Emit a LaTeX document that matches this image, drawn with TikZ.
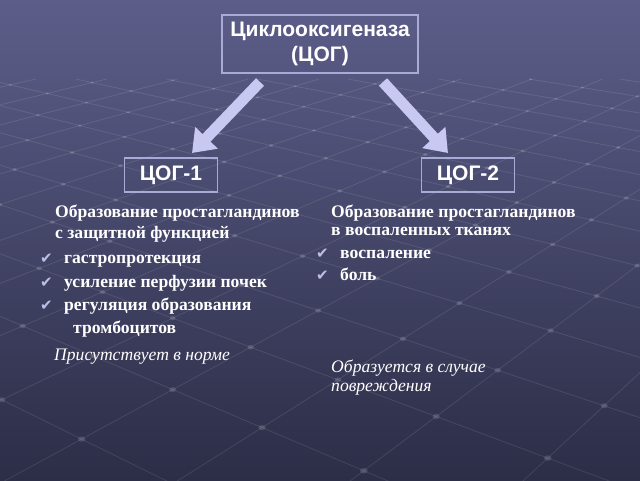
\documentclass[tikz,border=0pt]{standalone}
\usepackage{fontspec}
\setmainfont{Liberation Serif}
\newfontfamily\arialf{Liberation Sans}
\newfontfamily\djv{DejaVu Sans}
\usetikzlibrary{arrows.meta}
\definecolor{bgtop}{RGB}{92,94,138}
\definecolor{bgbot}{RGB}{44,45,70}
\definecolor{boxline}{RGB}{170,170,215}
\definecolor{arrowc}{RGB}{200,200,242}
\definecolor{checkc}{RGB}{190,190,230}
\begin{document}
\begin{tikzpicture}[x=1pt,y=-1pt,
  gridl/.style={white,opacity=0.10,line width=0.8pt},
  gridd/.style={white,opacity=0.14},
  titlebox/.style={draw=boxline,line width=1.2pt,text=white,font=\arialf\bfseries\fontsize{21}{25}\selectfont,align=center,inner sep=0pt,minimum width=196pt,minimum height=58pt},
  cogbox/.style={draw=boxline,line width=1.2pt,text=white,font=\arialf\bfseries\fontsize{21}{22}\selectfont,inner sep=0pt,minimum width=93pt,minimum height=34pt},
  bodytxt/.style={text=white,font=\bfseries\fontsize{17.6}{20}\selectfont,anchor=base west,inner sep=0pt},
  itxt/.style={text=white,font=\itshape\fontsize{17.6}{20}\selectfont,anchor=base west,inner sep=0pt},
  chk/.style={text=checkc,font=\djv\fontsize{15}{15}\selectfont,anchor=base west,inner sep=0pt},
  bigarrow/.style={draw=arrowc,line width=11pt,-{Triangle[width=30pt,length=21pt]}}
]
\useasboundingbox (0,0) rectangle (640,480);
\shade[top color=bgtop,bottom color=bgbot] (0,0) rectangle (640,480);
% perspective floor grid
\pgfmathsetmacro{\cs}{cos(52)}
\pgfmathsetmacro{\sn}{sin(52)}
\begin{scope}
\clip (0,0) rectangle (640,480);
\foreach \i in {1,...,23}{
  \pgfmathsetmacro{\ga}{\i*0.2+0.05}
  \pgfmathsetmacro{\xa}{320+1200*(\ga-1.6*\sn)/(\cs*1.6)}
  \pgfmathsetmacro{\xb}{320+1200*(\ga-4.3*\sn)/(\cs*4.3)}
  \draw[gridl] (\xa,{-200+1200/1.6}) -- (\xb,{-200+1200/4.3});
  \pgfmathsetmacro{\xc}{320+1200*(1.6*\cs-\ga)/(\sn*1.6)}
  \pgfmathsetmacro{\xd}{320+1200*(4.3*\cs-\ga)/(\sn*4.3)}
  \draw[gridl] (\xc,{-200+1200/1.6}) -- (\xd,{-200+1200/4.3});
}
\foreach \i in {1,...,23}{
  \foreach \j in {1,...,23}{
    \pgfmathsetmacro{\za}{(\i*0.2+0.05)*\sn+(\j*0.2+0.05)*\cs}
    \ifdim\za pt>1.6pt \ifdim\za pt<4.3pt
      \pgfmathsetmacro{\xx}{(\i*0.2+0.05)*\cs-(\j*0.2+0.05)*\sn}
      \fill[gridd] ({320+1200*\xx/\za},{-200+1200/\za}) ellipse ({7/\za} and {5/\za});
    \fi\fi
  }
}
\end{scope}
% boxes
\node[titlebox] (cog) at (320,44) {Циклооксигеназа\\(ЦОГ)};
\node[cogbox] (cog1) at (171,175) {ЦОГ-1};
\node[cogbox] (cog2) at (468,175) {ЦОГ-2};
% arrows
\coordinate (a1s) at (260,82);
\coordinate (a1e) at (192,153);
\coordinate (a2s) at (383,82);
\coordinate (a2e) at (448,153);
\draw[bigarrow] (a1s) -- (a1e);
\draw[bigarrow] (a2s) -- (a2e);
% left text
\node[bodytxt] (l1) at (55,217) {Образование простагландинов};
\node[bodytxt] (l2) at (55,238) {с защитной функцией};
\node[chk] (c1) at (40,263) {✔};
\node[bodytxt] (l3) at (64,263) {гастропротекция};
\node[chk] (c2) at (40,287) {✔};
\node[bodytxt] (l4) at (64,287) {усиление перфузии почек};
\node[chk] (c3) at (40,310) {✔};
\node[bodytxt] (l5) at (64,310) {регуляция образования};
\node[bodytxt] (l6) at (73,333) {тромбоцитов};
\node[itxt] (l7) at (54,360) {Присутствует в норме};
% right text
\node[bodytxt] (r1) at (331,217) {Образование простагландинов};
\node[bodytxt] (r2) at (331,235) {в воспаленных тканях};
\node[chk] (c4) at (316,258) {✔};
\node[bodytxt] (r3) at (340,258) {воспаление};
\node[chk] (c5) at (316,280) {✔};
\node[bodytxt] (r4) at (340,280) {боль};
\node[itxt] (r5) at (331,372) {Образуется в случае};
\node[itxt] (r6) at (331,391) {повреждения};
\end{tikzpicture}
\end{document}
